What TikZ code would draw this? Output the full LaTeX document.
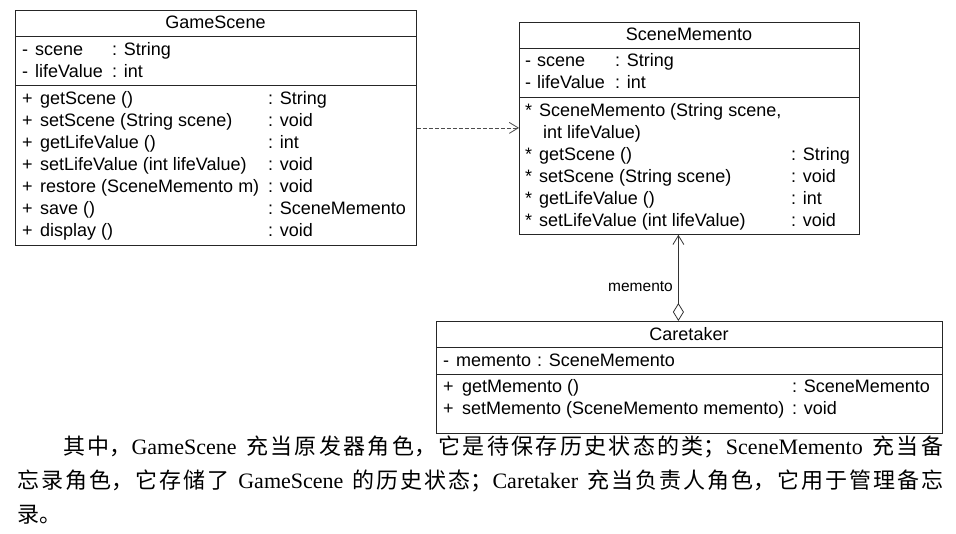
\documentclass[tikz,border=0pt]{standalone}
\usepackage{fontspec}
\setmainfont{Liberation Sans}
\newfontfamily\cjk{Noto Sans CJK SC}
\newfontfamily\tms{Liberation Serif}
\usepackage{xcolor}
\usepackage{tikz}
\usetikzlibrary{arrows.meta}
\XeTeXlinebreaklocale "zh"
\XeTeXlinebreakskip=0pt plus 2pt

\begin{document}
\begin{tikzpicture}[x=1pt,y=-1pt,
		cls/.style={draw=black!85,line width=0.8pt,anchor=north west,inner sep=0pt},
		txt/.style={anchor=base west,inner sep=0pt,font=\fontsize{18}{22}\selectfont},
		ttl/.style={anchor=base,inner sep=0pt,font=\fontsize{18}{22}\selectfont},
		lbl/.style={anchor=base east,inner sep=0pt,font=\fontsize{15.5}{18}\selectfont},
		dep/.style={draw=black!70,line width=0.8pt,dash pattern=on 4pt off 2pt,-{Straight Barb[length=9pt,width=11pt]}},
		aggr/.style={draw=black!80,line width=0.8pt,{Diamond[open,length=18pt,width=11pt]}-{Straight Barb[length=9pt,width=11pt]}},
		para/.style={anchor=base west,inner sep=0pt,font=\fontsize{22}{34}\selectfont,text width=926pt,align=justify}]
		\useasboundingbox (0,0) rectangle (956,533);
		\def\sep#1#2{\draw[draw=black!85,line width=0.8pt] ([yshift=-#2pt]#1.north west) -- ([yshift=-#2pt]#1.north east);}
		\node[cls,minimum width=401pt,minimum height=235pt] (gs) at (15,10) {};
		\node[cls,minimum width=340pt,minimum height=212pt] (sm) at (519,22) {};
		\node[cls,minimum width=506pt,minimum height=112pt] (ct) at (436,321) {};
		\sep{gs}{26} \sep{gs}{75}
		\sep{sm}{26} \sep{sm}{75}
		\sep{ct}{26} \sep{ct}{53}
		\node[ttl] (gs-t) at (215.5,28) {GameScene};
		\node[ttl] (sm-t) at (689,40) {SceneMemento};
		\node[ttl] (ct-t) at (689,340) {Caretaker};
		\foreach \n/\r [count=\i] in {scene/String,lifeValue/int}
		{
			\node[txt] (gs-as\i) at (22,{55+22*(\i-1)}) {-};
			\node[txt] (gs-a\i) at (35,{55+22*(\i-1)}) {\n};
			\node[txt] (gs-ar\i) at (112,{55+22*(\i-1)}) {: \r};
			\node[txt] (sm-as\i) at (525,{66+22*(\i-1)}) {-};
			\node[txt] (sm-a\i) at (537,{66+22*(\i-1)}) {\n};
			\node[txt] (sm-ar\i) at (615,{66+22*(\i-1)}) {: \r};
		}
		\foreach \n/\r [count=\i] in {getScene ()/String,setScene (String scene)/void,getLifeValue ()/int,setLifeValue (int lifeValue)/void,restore (SceneMemento m)/void,save ()/SceneMemento,display ()/void}
		{
			\node[txt] (gs-ms\i) at (22,{104+22.15*(\i-1)}) {+};
			\node[txt] (gs-m\i) at (40,{104+22.15*(\i-1)}) {\n};
			\node[txt] (gs-mr\i) at (268,{104+22.15*(\i-1)}) {: \r};
		}
		\node[txt] (sm-ms0) at (525,116) {*};
		\node[txt] (sm-m0) at (539,116) {SceneMemento (String scene,};
		\node[txt] (sm-m0b) at (543,138) {int lifeValue)};
		\foreach \n/\r [count=\i] in {getScene ()/String,setScene (String scene)/void,getLifeValue ()/int,setLifeValue (int lifeValue)/void}
		{
			\node[txt] (sm-ms\i) at (525,{138+22*\i}) {*};
			\node[txt] (sm-m\i) at (539,{138+22*\i}) {\n};
			\node[txt] (sm-mr\i) at (791,{138+22*\i}) {: \r};
		}
		\node[txt] (ct-as1) at (443,366) {-};
		\node[txt] (ct-a1) at (456,366) {memento};
		\node[txt] (ct-ar1) at (537,366) {: SceneMemento};
		\foreach \n/\r [count=\i] in {getMemento ()/SceneMemento,setMemento (SceneMemento memento)/void}
		{
			\node[txt] (ct-ms\i) at (443,{392+22*(\i-1)}) {+};
			\node[txt] (ct-m\i) at (462,{392+22*(\i-1)}) {\n};
			\node[txt] (ct-mr\i) at (792,{392+22*(\i-1)}) {: \r};
		}
		\draw[dep] (gs.east) -- (gs.east -| sm.west);
		\draw[aggr] ([xshift=-11pt]ct.north) -- ([xshift=-11pt]sm.south);
		\node[lbl] (memo) at (673,291.5) {memento};
		\node[para] (p1) at (17,454) {\parfillskip=0pt\noindent\hspace*{46pt}{\cjk 其中，}{\tms GameScene} {\cjk 充当原发器角色，它是待保存历史状态的类；}{\tms SceneMemento} {\cjk 充当备}\par};
		\node[para] (p2) at (17,488) {\parfillskip=0pt\noindent{\cjk 忘录角色，它存储了} {\tms GameScene} {\cjk 的历史状态；}{\tms Caretaker} {\cjk 充当负责人角色，它用于管理备忘}\par};
		\node[para] (p3) at (17,522) {\noindent{\cjk 录。}};
	\end{tikzpicture}
\end{document}
